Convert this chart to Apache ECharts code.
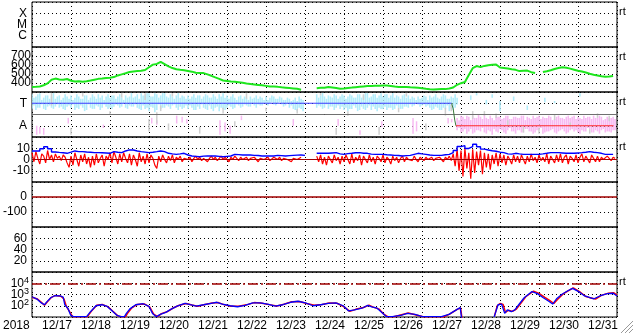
<!DOCTYPE html>
<html><head><meta charset="utf-8">
<script src="https://cdn.jsdelivr.net/npm/echarts@6/dist/echarts.min.js"></script>
<style>html,body{margin:0;padding:0;background:#fff}#c{width:633px;height:334px}</style>
</head><body><div id="c"></div>
<script>
// ---------- data ----------
const dayLabels = ['12/17','12/18','12/19','12/20','12/21','12/22','12/23','12/24','12/25','12/26','12/27','12/28','12/29','12/30','12/31'];
const yearLabel = '2018';
const flareLabels = ['', 'C', 'M', 'X', ''];
const compLabels = ['', 'A', '', 'T', ''];
const DAYS = 15;

// solar wind speed (km/s), one value every 0.1 day
const SPEED_STEP = 0.1;
const speedVals = [355,358,362,375,396,437,449,440,435,444,425,416,420,414,420,428,437,446,450,456,
458,466,484,496,508,522,528,532,536,545,575,604,612,634,610,585,566,552,546,542,
534,526,514,512,510,496,480,462,446,428,422,416,414,408,402,394,389,384,379,374,
368,362,360,357,352,348,344,340,335,326,null,null,null,342,346,348,356,351,344,336,
340,345,349,354,358,362,366,368,370,369,372,372,366,360,356,355,355,352,350,346,
342,336,331,328,330,332,332,338,350,380,398,411,490,565,588,576,590,598,604,606,
572,566,560,552,546,532,536,538,520,512,null,522,530,541,556,566,575,570,560,548,
536,528,516,502,492,484,474,470,471,478];

// composition panel levels (T, boundary, A) and the T->A transition
const levelT = [[0,3],[10.76,3]];
const levelMid = [[0,2],[15,2]];
const levelA = [[10.87,1],[14.91,1]];
const levelDrop = [[10.76,3],[10.8,2.5],[10.84,1.5],[10.87,1]];

// cyan (T) scatter band, low/high every 0.1 day (two interleaved sets)
const BAND_STEP = 0.1;
const cyanHi = [3.8,3.6,3.9,3.5,3.7,3.6,3.4,3.7,3.5,3.6,3.7,3.5,3.6,3.4,3.7,3.5,3.6,3.8,3.7,3.6,
3.5,3.7,3.6,3.5,3.7,3.6,3.5,3.8,3.9,3.7,3.9,3.6,3.8,3.7,3.9,3.5,3.6,3.7,3.5,3.6,
3.7,3.6,3.5,3.7,3.6,3.7,3.5,3.6,3.8,3.9,3.7,3.6,3.5,3.6,3.4,3.5,3.6,3.5,3.4,3.5,
3.6,3.5,3.6,3.4,3.5,3.3,3.4,3.3,3.2,3.4,null,null,null,3.8,3.7,3.6,3.7,3.5,3.7,3.6,
3.7,3.6,3.7,3.5,3.8,3.7,3.9,3.6,3.8,3.7,3.6,3.8,3.7,3.5,3.6,3.7,3.5,3.4,3.5,3.6,
3.5,3.6,3.7,3.6,3.5,3.6,3.7,3.4,3.5,3.5,null,null,null,null,3.9,null,null,null,3.8,null,
3.2,null,null,null,null,null,null,2.8,null,null,null,null,null,null,3.2,null,null,null,null,null,
null,null,null,null,null,null,null,null,null,null];
const cyanLo = [2.5,2.4,2.6,2.5,2.7,2.6,2.7,2.6,2.5,2.7,2.6,2.4,2.5,2.6,2.4,2.6,2.5,2.7,2.6,2.7,
2.6,2.7,2.8,2.7,2.6,2.8,2.7,2.6,2.4,2.5,2.3,2.6,2.4,2.5,2.6,2.7,2.8,2.6,2.7,2.6,
2.5,2.6,2.4,2.5,2.6,2.4,2.5,2.6,2.3,2.5,2.6,2.7,2.6,2.8,2.7,2.8,2.7,2.8,2.9,2.8,
2.9,3.0,2.9,3.0,2.9,2.8,2.6,2.5,2.3,2.5,null,null,null,2.6,2.7,2.6,2.5,2.7,2.6,2.5,
2.4,2.3,2.5,2.6,2.4,2.5,2.6,2.4,2.5,2.6,2.5,2.4,2.6,2.5,2.6,2.5,2.7,2.9,2.8,2.9,
2.8,2.7,2.6,2.5,2.6,2.4,2.5,2.3,2.4,2.9,null,null,null,null,3.7,null,null,null,3.5,null,
2.3,null,null,null,null,null,null,2.4,null,null,null,null,null,null,3.0,null,null,null,null,null,
null,null,null,null,null,null,null,null,null,null];
const CYAN2_START = 0.05;
const cyanHi2 = [3.5,3.8,3.3,3.7,3.4,3.9,3.6,3.3,3.8,3.4,3.3,3.8,3.4,3.7,3.3,3.8,3.4,3.5,3.3,3.8,
3.7,3.4,3.8,3.3,3.5,3.9,3.6,3.4,3.7,3.9,3.6,3.9,3.5,3.9,3.6,3.8,3.4,3.9,3.7,3.4,
3.4,3.8,3.7,3.4,3.8,3.5,3.8,3.4,3.6,3.5,3.4,3.8,3.3,3.7,3.6,3.3,3.4,3.7,3.6,3.3,
3.3,3.7,3.4,3.6,3.3,3.5,3.2,3.5,3.6,3.3,null,null,null,3.5,3.9,3.4,3.6,3.8,3.4,3.8,
3.4,3.8,3.5,3.8,3.5,3.9,3.5,3.8,3.5,3.9,3.8,3.5,3.9,3.7,3.4,3.8,3.7,3.6,3.3,3.4,
3.7,3.3,3.5,3.8,3.4,3.8,3.4,3.6,3.8,null,null,null,3.7,null,null,null,3.3,null,null,null,
null,null,null,3.6,null,null,null,null,null,null,null,3.5,null,null,null,null,null,null,null,null,
3.9,null,null,null,null,null,null,null,null,null];
const cyanLo2 = [2.8,2.6,2.9,2.4,2.8,2.5,2.9,2.7,2.4,2.8,2.9,2.6,2.8,2.3,2.9,2.5,2.8,2.4,2.9,2.5,
2.5,2.9,2.6,3.0,2.5,2.7,2.9,2.5,2.8,2.6,2.7,2.2,2.9,2.6,2.8,2.5,2.9,2.4,2.5,2.8,
2.8,2.4,2.7,2.9,2.5,2.8,2.3,2.7,2.6,2.4,2.8,2.5,2.9,2.6,2.9,2.7,3.0,2.6,2.8,3.0,
2.8,3.1,2.8,3.1,2.7,3.0,2.8,2.4,2.6,2.3,null,null,null,2.8,2.5,2.9,2.7,2.4,2.8,2.7,
2.6,2.5,2.8,2.3,2.7,2.4,2.8,2.7,2.3,2.5,2.7,2.6,2.4,2.8,2.5,2.7,2.6,2.7,3.0,2.7,
2.9,2.8,2.4,2.7,2.4,2.6,2.8,2.5,2.6,null,null,null,3.3,null,null,null,2.9,null,null,null,
null,null,null,3.2,null,null,null,null,null,null,null,3.1,null,null,null,null,null,null,null,null,
3.6,null,null,null,null,null,null,null,null,null];

// pink (A) band after the transition, low/high every 0.1 day (two interleaved sets)
const PINK_START = 10.9;
const pinkHi = [1.7,1.9,1.6,1.8,1.9,1.7,1.8,2.0,1.6,1.7,1.9,1.8,1.7,1.9,1.6,1.8,1.7,1.9,1.8,1.6,
1.7,1.9,1.8,1.7,1.8,1.6,1.9,1.7,1.8,1.7,1.9,1.8,1.6,1.7,1.8,1.9,1.7,1.8,1.6,1.7,1.8];
const pinkLo = [0.6,0.4,0.7,0.5,0.3,0.6,0.5,0.4,0.6,0.2,0.5,0.7,0.4,0.6,0.5,0.3,0.6,0.4,0.7,0.5,
0.4,0.6,0.3,0.5,0.6,0.4,0.5,0.7,0.3,0.6,0.5,0.4,0.6,0.5,0.7,0.4,0.5,0.6,0.4,0.5,0.6];
const PINK2_START = 10.95;
const pinkHi2 = [1.5,1.8,1.9,1.5,1.7,2.0,1.6,1.7,1.9,1.5,1.8,1.6,1.9,1.6,1.8,1.7,1.9,1.5,1.7,1.9,
1.8,1.6,1.7,1.9,1.5,1.8,1.7,1.6,1.9,1.8,1.6,1.7,1.9,1.8,1.6,1.7,1.9,1.5,1.8,1.7,1.6];
const pinkLo2 = [0.8,0.5,0.3,0.7,0.4,0.6,0.8,0.3,0.5,0.7,0.4,0.6,0.3,0.8,0.5,0.6,0.4,0.7,0.5,0.3,
0.6,0.8,0.4,0.5,0.7,0.3,0.6,0.5,0.4,0.7,0.6,0.3,0.5,0.8,0.4,0.6,0.3,0.7,0.5,0.4,0.6];
// sparse pink streaks before the transition [day, low, high]
const pinkSparse = [[0.12,0.2,1.0],[0.2,0.3,0.9],[0.3,0.2,0.8],[0.93,1.2,1.7],[1.83,0.8,1.1],[3.07,1.2,1.7],[3.2,1.1,1.5],
[3.71,1.2,1.9],[3.85,1.3,1.8],[3.97,1.2,1.6],[4.82,0.2,1.5],[4.95,0.5,1.3],[5.08,0.3,1.0],[5.37,1.5,1.9],[6.7,1.0,1.6],
[7.85,1.0,1.6],[8.41,0.2,0.6],[8.97,0.9,1.4],[9.77,0.3,1.7],[9.86,0.5,1.4],[10.67,1.2,1.7],[10.76,1.3,1.6]];
// gray streaks [day, low, high]
const graySparse = [[0.5,2.8,3.9],[1.0,0.2,0.8],[1.3,3.6,3.9],[2.0,2.0,2.3],[2.3,3.5,3.9],[2.9,3.3,3.9],[3.0,0.5,1.6],
[3.2,1.2,2.2],[3.3,2.3,2.8],[3.5,0.6,1.2],[3.6,3.6,3.9],[4.3,0.3,0.9],[4.9,2.1,2.6],[5.2,0.9,1.4],[5.5,3.4,3.9],
[6.0,2.3,2.6],[6.8,2.1,2.5],[7.4,3.7,3.9],[7.8,0.2,0.8],[8.1,1.9,2.3],[8.5,3.3,3.8],[8.9,0.2,0.9],[9.4,2.2,2.6],
[9.6,3.6,3.9],[10.1,0.6,1.2],[10.6,1.9,2.6],[10.75,2.3,2.9],[11.3,1.6,2.3],[11.6,1.9,2.3],[11.9,1.7,2.1],[12.2,1.0,1.5],
[12.6,0.4,0.9],[13.0,0.3,0.8],[13.4,1.5,2.0],[13.8,0.9,1.3],[14.3,0.3,0.7],[14.5,1.7,2.1],[14.8,1.4,1.9]];

// IMF Bt (nT), every 0.1 day
const BT_STEP = 0.1;
const btVals = [7.6,7.6,9.5,11.4,9.6,6.7,6.3,6.0,5.5,6.5,7.6,7.0,7.0,6.7,6.5,6.1,6.1,6.0,5.8,5.5,
7.0,6.5,6.1,7.6,8.5,8.4,7.6,7.0,6.6,6.1,6.5,7.0,7.6,7.0,5.5,5.0,4.6,5.0,5.5,4.0,
3.1,2.8,2.5,3.0,3.1,3.1,3.1,2.8,2.5,2.8,3.1,4.6,4.3,4.0,4.0,4.0,3.7,3.5,3.1,3.1,
3.1,3.1,3.7,3.4,3.1,3.4,3.7,3.9,4.0,3.7,null,null,null,5.5,5.5,5.5,5.8,6.1,5.0,4.6,
5.2,5.5,6.0,6.1,5.6,5.5,4.8,4.6,4.6,4.6,4.2,4.0,3.7,3.5,3.1,3.4,3.7,4.6,5.5,5.0,
4.6,4.0,3.7,3.7,3.7,4.2,4.6,6.1,8.0,11.5,12.3,9.8,11.5,13.5,11.4,9.2,8.4,7.8,7.3,6.5,
6.1,5.0,4.8,5.5,5.0,4.6,4.6,4.6,4.6,4.6,5.0,5.5,6.1,6.1,6.1,5.8,5.5,5.5,5.5,5.8,
6.1,6.5,7.0,6.4,6.1,5.5,4.6,4.6,4.6,4.6];
// IMF Bz (nT), every 0.05 day
const BZ_STEP = 0.05;
const bzVals = [6,-2,7,1,-4,5,3,-3,8,0, 4,-2,5,1,3,-1,4,2,-3,-7, 3,-5,6,0,-6,4,-2,5,-4,2,
-7,3,-5,5,-3,1,4,-6,3,0, 6,-3,7,2,-4,5,-2,6,1,-3, 5,-5,4,0,-6,6,-2,3,-4,5,
-3,4,1,-5,-8,3,-2,4,0,-3, 3,-1,4,-3,2,0,3,-2,1,2, 0,2,-2,1,3,0,2,-1,1,2,
-2,1,3,0,2,-1,1,3,0,2, 1,-2,2,0,3,1,-1,2,0,1, 2,-1,1,0,2,1,-2,1,2,0,
1,2,-1,0,2,1,0,2,-1,1, 2,0,1,-2,1,2,0,1,2,null, null,null,null,null,null,null,3,-2,4,-4,
2,-5,3,0,-3,4,-1,2,-4,3, -2,4,0,-4,5,-3,2,-1,4,-5, 3,0,-3,4,-2,2,-4,3,1,-2,
4,-3,2,0,-4,3,-1,2,-3,1, 3,-2,2,0,1,-1,3,0,-2,2, 1,-1,2,0,1,2,-1,1,0,2,
1,-2,2,0,3,-1,5,-6,9,-10, 8,-15,10,-8,6,-17,9,-12,7,-5, 8,-13,6,-7,5,-9,4,-4,6,-6,
5,-3,4,-5,3,0,-4,4,-2,3, -3,4,0,-4,3,-2,5,-1,2,-3, 4,-1,2,-2,5,-4,3,0,-3,4,
-2,5,-3,2,4,-4,3,1,-2,4, -3,2,5,-2,3,0,-3,4,1,-2, 3,-2,2,0,-1,3,1,-1,2,1];

// particle flux, log10 exponent, [day, exponent]
const fluxBlue = [[0,2.8],[0.03,2.77],[0.14,2.56],[0.24,2.25],[0.32,2.09],[0.38,2.34],[0.48,2.71],[0.58,2.89],[0.72,2.87],
[0.8,2.77],[0.84,2.09],[0.92,1.78],[0.99,1.17],[1.06,1.03],[1.4,1.03],[1.5,1.47],[1.64,2.0],[1.79,2.09],[1.93,1.94],
[2.03,1.63],[2.17,1.17],[2.27,1.03],[2.37,1.03],[2.42,1.32],[2.51,1.72],[2.66,2.09],[2.85,2.18],[3.0,1.94],[3.09,1.32],
[3.19,1.03],[3.29,1.23],[3.43,1.41],[3.58,1.72],[3.72,1.97],[3.92,2.22],[4.06,2.09],[4.21,1.97],[4.4,2.09],[4.59,2.22],
[4.74,2.31],[4.88,2.15],[5.08,2.0],[5.27,1.91],[5.46,2.03],[5.66,2.25],[5.85,2.25],[6.04,2.15],[6.24,1.97],[6.43,2.09],
[6.63,2.31],[6.82,2.4],[7.01,2.25],[7.21,2.0],[7.4,2.09],[7.59,2.22],[7.79,2.25],[7.98,2.0],[8.12,1.54],[8.27,1.63],
[8.46,1.78],[8.61,2.03],[8.71,1.91],[8.85,1.78],[9.0,1.32],[9.09,1.03],[9.24,1.03],[9.48,1.17],[9.62,1.32],[9.82,1.23],
[10.01,1.03],[10.4,1.03],[10.5,1.03],[10.69,1.23],[10.88,1.63],[10.98,1.84],[11.03,0.5],[11.4,null],[11.85,1.01],[11.95,2.09],
[12.04,2.15],[12.12,1.32],[12.19,1.63],[12.29,1.47],[12.38,1.63],[12.48,2.09],[12.62,2.71],[12.82,3.26],[12.96,3.08],
[13.11,2.71],[13.25,2.4],[13.35,2.15],[13.45,2.62],[13.59,3.02],[13.74,3.33],[13.86,3.54],[14.03,3.23],[14.17,2.87],
[14.27,2.77],[14.41,2.62],[14.56,2.87],[14.75,3.08],[14.9,3.11],[15.0,2.87]];
const fluxRed = [[0,2.75],[0.14,2.6],[0.24,2.3],[0.32,2.05],[0.4,2.38],[0.5,2.75],[0.6,2.92],[0.74,2.85],[0.82,2.6],
[0.88,1.95],[0.96,1.5],[1.04,1.03],[1.42,1.03],[1.52,1.5],[1.66,2.05],[1.8,2.12],[1.95,1.9],[2.06,1.55],[2.2,1.1],
[2.3,1.03],[2.4,1.03],[2.46,1.38],[2.55,1.78],[2.7,2.12],[2.88,2.16],[3.02,1.88],[3.12,1.25],[3.22,1.03],[3.32,1.3],
[3.46,1.46],[3.62,1.8],[3.76,2.02],[3.95,2.2],[4.1,2.06],[4.25,1.95],[4.44,2.12],[4.62,2.25],[4.78,2.28],[4.92,2.1],
[5.1,1.96],[5.3,1.95],[5.5,2.08],[5.7,2.28],[5.9,2.22],[6.08,2.1],[6.28,1.98],[6.46,2.14],[6.66,2.35],[6.86,2.38],
[7.04,2.2],[7.24,2.04],[7.44,2.12],[7.62,2.25],[7.82,2.22],[8.0,1.9],[8.15,1.5],[8.3,1.68],[8.5,1.85],[8.64,2.06],
[8.75,1.88],[8.9,1.7],[9.02,1.25],[9.12,1.03],[9.28,1.03],[9.5,1.22],[9.65,1.35],[9.85,1.18],[10.03,1.03],[10.48,1.03],
[10.55,1.0],[10.72,1.28],[10.9,1.68],[10.99,1.8],[11.04,0.5],[11.4,null],[11.86,1.1],[11.93,2.0],[12.0,2.2],[12.08,2.12],
[12.14,1.4],[12.22,1.6],[12.32,1.5],[12.42,1.7],[12.52,2.15],[12.66,2.8],[12.86,3.3],[13.0,3.1],[13.15,2.75],[13.28,2.45],
[13.38,2.2],[13.48,2.58],[13.62,3.05],[13.78,3.38],[13.88,3.58],[14.06,3.2],[14.2,2.82],[14.3,2.72],[14.45,2.6],
[14.6,2.92],[14.78,3.12],[14.92,3.15],[15.0,2.95]];
const fluxThreshold = 4;   // 10^4 reference level
const bzZero = 0;
const dstZero = 0;

// ---------- layout ----------
const FONT = "'Liberation Sans',Arial,sans-serif";
const XFONT = "'Liberation Sans Narrow','Liberation Sans',Arial,sans-serif";
const tops = [2,47,92,137,182,227,272];
const PH = 45;
const chart = echarts.init(document.getElementById('c'), null, {renderer:'canvas'});

const grids = tops.map(t => ({left:32, right:16, top:t, height:PH, show:true, borderColor:'#000', borderWidth:1, backgroundColor:'transparent'}));
const dotted = {show:true, lineStyle:{color:'#000', type:[1,3], width:1}};
const xAxes = tops.map((t,i) => ({
  type:'value', gridIndex:i, min:0, max:DAYS, interval:1,
  axisLine:{show:false}, axisTick:{show:false}, splitLine:dotted,
  axisLabel: i === 6 ? {show:true, color:'#000', fontFamily:XFONT, fontSize:12, margin:3, align:'left', padding:[0,0,0,10],
      formatter: v => (v < DAYS ? dayLabels[v] : '')} : {show:false}
}));
function yAx(i, min, max, interval, fmt, margin) {
  return {type:'value', gridIndex:i, min, max, interval,
    axisLine:{show:false}, axisTick:{show:false}, splitLine:dotted,
    axisLabel:{color:'#000', fontFamily:FONT, fontSize:12, margin, formatter:fmt,
      rich:{s:{fontSize:9, fontFamily:FONT, color:'#000', verticalAlign:'top', padding:[0,0,6,0]}}}};
}
const yAxes = [
  yAx(0, 0, 4, 1, v => flareLabels[v], 5),
  yAx(1, 300, 800, 100, v => (v > 300 && v < 800 ? String(v) : ''), 1),
  yAx(2, 0, 4, 1, v => compLabels[v], 5),
  yAx(3, -20, 20, 10, v => (Math.abs(v) < 20 ? String(v) : ''), 2),
  yAx(4, -200, 100, 100, v => (v > -200 && v < 100 ? String(v) : ''), 5),
  yAx(5, 0, 80, 20, v => (v > 0 && v < 80 ? String(v) : ''), 5),
  yAx(6, 1, 5, 1, v => (v > 1 && v < 5 ? '10{s|' + v + '}' : ''), 3)
];

const stepped = (vals, step, start) => vals.map((v, i) => [+(start + i * step).toFixed(3), v]);
const bands = (his, los, step, start) => his.map((h, i) => [+(start + i * step).toFixed(3), los[i], h]).filter(d => d[1] != null && d[2] != null);

function streak(color, w) {
  return function(params, api) {
    const t = api.value(0), lo = api.value(1), hi = api.value(2);
    const p1 = api.coord([t, hi]), p2 = api.coord([t, lo]);
    return {type:'rect', shape:{x:p1[0] - w/2, y:p1[1], width:w, height:Math.max(1, p2[1] - p1[1])}, style:{fill:color}};
  };
}
const custom = (data, color, w) => ({type:'custom', xAxisIndex:2, yAxisIndex:2, data, renderItem:streak(color, w), clip:true, z:1, animation:false});
const line = (xi, data, color, width, extra) => Object.assign({type:'line', xAxisIndex:xi, yAxisIndex:xi, data, showSymbol:false, symbol:'none',
  lineStyle:{color, width}, connectNulls:false, animation:false, z:3}, extra||{});
const hline = (xi, val, color, width, type) => ({type:'line', xAxisIndex:xi, yAxisIndex:xi, data:[], silent:true,
  markLine:{symbol:'none', silent:true, animation:false, label:{show:false}, lineStyle:{color, width, type}, data:[{yAxis:val}]}});

const CYAN = '#b2ecfa', PINK = '#f7baf2', GRAY = '#cfcfcf';
const series = [
  line(1, stepped(speedVals, SPEED_STEP, 0), '#1ee61e', 2),
  custom(bands(cyanHi, cyanLo, BAND_STEP, 0), CYAN, 1.6),
  custom(bands(cyanHi2, cyanLo2, BAND_STEP, CYAN2_START), CYAN, 1.6),
  custom(bands(pinkHi, pinkLo, BAND_STEP, PINK_START), PINK, 1.6),
  custom(bands(pinkHi2, pinkLo2, BAND_STEP, PINK2_START), PINK, 1.6),
  custom(pinkSparse, PINK, 1.5),
  custom(graySparse, GRAY, 1.5),
  line(2, levelMid, '#707070', 1),
  line(2, levelT, '#3c3cff', 1.2),
  line(2, levelDrop, '#3c7a3c', 1),
  line(2, levelA, '#ff2a2a', 1.2),
  hline(3, bzZero, '#a00000', 1.2, 'solid'),
  line(3, stepped(bzVals, BZ_STEP, 0), '#ff0000', 1.2),
  line(3, stepped(btVals, BT_STEP, 0), '#0000ff', 1.4, {step:'end'}),
  hline(4, dstZero, '#a00000', 1.5, 'solid'),
  hline(6, fluxThreshold, '#a00000', 1.5, [10,3,2,3]),
  line(6, fluxRed, '#ff0000', 1.5),
  line(6, fluxBlue, '#0000ff', 1.3)
];

const rtTops = [tops[0], tops[1], tops[2], tops[3], tops[6]];
const graphic = rtTops.map(t => ({type:'text', left:619, top:t + 4, style:{text:'rt', font:'11px ' + FONT, fill:'#000'}}));
graphic.push({type:'text', left:3, top:320, style:{text:yearLabel, font:'12px ' + XFONT, fill:'#000'}});
[[621,333,633,321],[625,333,633,325],[629,333,633,329]].forEach(s => graphic.push({type:'line', shape:{x1:s[0], y1:s[1], x2:s[2], y2:s[3]}, style:{stroke:'#999', lineWidth:1}}));

chart.setOption({animation:false, backgroundColor:'#fff', grid:grids, xAxis:xAxes, yAxis:yAxes, series, graphic});
</script></body></html>
